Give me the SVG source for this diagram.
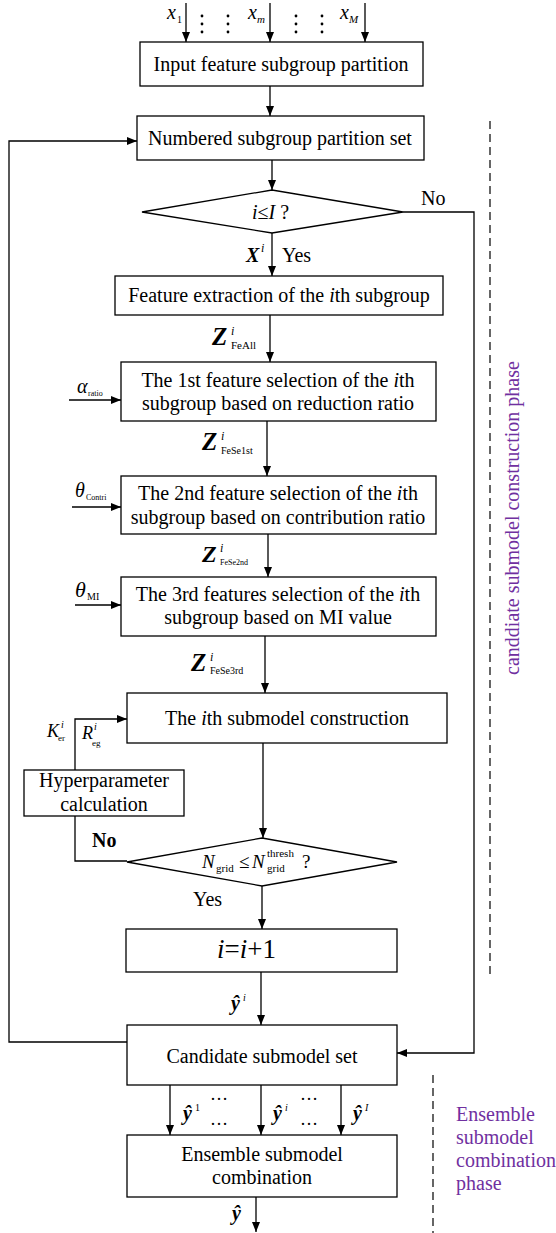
<svg xmlns="http://www.w3.org/2000/svg" width="556" height="1233" viewBox="0 0 556 1233" font-family="'Liberation Serif','Times New Roman',serif">
<defs>
<marker id="ah" markerUnits="userSpaceOnUse" markerWidth="10" markerHeight="8" refX="10" refY="4" orient="auto">
<path d="M0,0 L10,4 L0,8 z" fill="#000"/>
</marker>
<style>
text{font-family:"Liberation Serif","Times New Roman",serif;fill:#000}
.t{font-size:20px;text-anchor:middle}
.box{fill:#fff;stroke:#000;stroke-width:1.3}
.ln{fill:none;stroke:#000;stroke-width:1.3}
.ar{fill:none;stroke:#000;stroke-width:1.3;marker-end:url(#ah)}
.dash{fill:none;stroke:#000;stroke-width:1.2;stroke-dasharray:8 5}
.it{font-style:italic}
.bi{font-style:italic;font-weight:bold}
.sub{font-size:10px}
.sup{font-size:12px;font-style:italic}
.ph{font-size:20px;fill:#7030a0}
</style>
</defs>
<rect width="556" height="1233" fill="#fff"/>

<g id="connectors">
<line class="ar" x1="186" y1="3" x2="186" y2="42"/>
<line class="ar" x1="270" y1="3" x2="270" y2="42"/>
<line class="ar" x1="365" y1="3" x2="365" y2="42"/>
<line class="ar" x1="270" y1="86" x2="270" y2="116"/>
<line class="ar" x1="272" y1="160" x2="272" y2="190"/>
<line class="ar" x1="272" y1="233" x2="272" y2="276"/>
<polyline class="ar" points="403,212 474,212 474,1053 397,1053"/>
<line class="ar" x1="270" y1="315" x2="270" y2="362"/>
<line class="ar" x1="69" y1="400" x2="121" y2="400"/>
<line class="ar" x1="267" y1="421" x2="267" y2="476"/>
<line class="ar" x1="72" y1="507" x2="121" y2="507"/>
<line class="ar" x1="268" y1="534" x2="268" y2="577"/>
<line class="ar" x1="75" y1="605" x2="121" y2="605"/>
<line class="ar" x1="265" y1="636" x2="265" y2="693"/>
<polyline class="ar" points="75,770 75,719 127,719"/>
<line class="ar" x1="263" y1="743" x2="263" y2="838"/>
<polyline class="ln" points="75,816 75,861 127,861"/>
<line class="ar" x1="262" y1="886" x2="262" y2="929"/>
<line class="ar" x1="261" y1="972" x2="261" y2="1025"/>
<polyline class="ar" points="127,1042 9,1042 9,141 137,141"/>
<line class="ar" x1="170" y1="1085" x2="170" y2="1135"/>
<line class="ar" x1="261" y1="1085" x2="261" y2="1135"/>
<line class="ar" x1="341" y1="1085" x2="341" y2="1135"/>
<line class="ar" x1="256" y1="1197" x2="256" y2="1232"/>
</g>

<g id="phase-lines">
<line class="dash" x1="490" y1="121" x2="490" y2="976"/>
<line class="dash" x1="433" y1="1075" x2="433" y2="1233"/>
</g>

<g id="inputs">
<text x="167" y="19" font-size="20" class="it">x</text><text x="177" y="23" class="sub">1</text>
<text x="248" y="19" font-size="20" class="it">x</text><text x="257" y="23" font-size="11" class="it">m</text>
<text x="340" y="19" font-size="20" class="it">x</text><text x="349" y="23" font-size="11" class="it">M</text>
<g fill="#000">
<circle cx="202" cy="16" r="1.4"/><circle cx="202" cy="24" r="1.4"/><circle cx="202" cy="32" r="1.4"/>
<circle cx="228" cy="16" r="1.4"/><circle cx="228" cy="24" r="1.4"/><circle cx="228" cy="32" r="1.4"/>
<circle cx="296" cy="16" r="1.4"/><circle cx="296" cy="24" r="1.4"/><circle cx="296" cy="32" r="1.4"/>
<circle cx="322" cy="16" r="1.4"/><circle cx="322" cy="24" r="1.4"/><circle cx="322" cy="32" r="1.4"/>
</g>
</g>

<g id="n-input">
<rect class="box" x="140" y="42" width="283" height="44"/>
<text class="t" x="281" y="71">Input feature subgroup partition</text>
</g>

<g id="n-numbered">
<rect class="box" x="137" y="116" width="287" height="44"/>
<text class="t" x="280" y="145">Numbered subgroup partition set</text>
</g>

<g id="n-cond1">
<polygon class="box" points="142,212 272,190 403,212 272,233"/>
<text x="252" y="219" font-size="20"><tspan class="it">i</tspan>≤<tspan class="it">I</tspan> ?</text>
<text x="421" y="205" font-size="20">No</text>
<text x="246" y="262" font-size="20" class="bi">X</text><text x="261" y="252" class="sup">i</text>
<text x="282" y="262" font-size="20">Yes</text>
</g>

<g id="n-extract">
<rect class="box" x="115" y="276" width="328" height="39"/>
<text class="t" x="279" y="302">Feature extraction of the <tspan class="it">i</tspan>th subgroup</text>
<text x="212" y="345" font-size="25" class="bi">Z</text><text x="231" y="335" class="sup">i</text><text x="231" y="349" font-size="11">FeAll</text>
</g>

<g id="n-sel1">
<rect class="box" x="121" y="362" width="315" height="59"/>
<text class="t" x="278" y="387">The 1st feature selection of the <tspan class="it">i</tspan>th</text>
<text class="t" x="278" y="410">subgroup based on reduction ratio</text>
<text x="77" y="393" font-size="20" class="it">α</text><text x="88" y="396" font-size="8">ratio</text>
<text x="202" y="450" font-size="25" class="bi">Z</text><text x="221" y="440" class="sup">i</text><text x="221" y="454" class="sub">FeSe1st</text>
</g>

<g id="n-sel2">
<rect class="box" x="121" y="476" width="315" height="58"/>
<text class="t" x="278" y="500">The 2nd feature selection of the <tspan class="it">i</tspan>th</text>
<text class="t" x="278" y="524">subgroup based on contribution ratio</text>
<text x="75" y="497" font-size="20" class="it">θ</text><text x="86" y="500" font-size="8">Contri</text>
<text x="202" y="562" font-size="24" class="bi">Z</text><text x="220" y="552" class="sup" font-size="10">i</text><text x="220" y="565" font-size="8">FeSe2nd</text>
</g>

<g id="n-sel3">
<rect class="box" x="121" y="577" width="315" height="59"/>
<text class="t" x="278" y="601">The 3rd features selection of the <tspan class="it">i</tspan>th</text>
<text class="t" x="278" y="624">subgroup based on MI value</text>
<text x="75" y="597" font-size="22" class="it">θ</text><text x="87" y="600" font-size="10">MI</text>
<text x="191" y="671" font-size="25" class="bi">Z</text><text x="210" y="661" class="sup">i</text><text x="210" y="674" class="sub">FeSe3rd</text>
</g>

<g id="n-construct">
<rect class="box" x="127" y="693" width="320" height="50"/>
<text class="t" x="287" y="725">The <tspan class="it">i</tspan>th submodel construction</text>
</g>

<g id="n-hyper">
<rect class="box" x="24" y="770" width="160" height="46"/>
<text class="t" x="104" y="787">Hyperparameter</text>
<text class="t" x="104" y="811">calculation</text>
<text x="47" y="737" font-size="18" class="it">K</text><text x="61" y="728" font-size="10" class="it">i</text><text x="58" y="741" font-size="9">er</text>
<text x="82" y="739" font-size="18" class="it">R</text><text x="94" y="730" font-size="10" class="it">i</text><text x="92" y="746" font-size="9">eg</text>
</g>

<g id="n-cond2">
<polygon class="box" points="127,862 262,838 397,862 262,886"/>
<text x="202" y="868" font-size="19"><tspan class="it">N</tspan></text><text x="216" y="872" font-size="11">grid</text>
<text x="239" y="868" font-size="19">≤</text>
<text x="252" y="868" font-size="19" class="it">N</text><text x="267" y="857" font-size="11">thresh</text><text x="267" y="872" font-size="11">grid</text>
<text x="302" y="868" font-size="19">?</text>
<text x="92" y="847" font-size="20" font-weight="bold">No</text>
<text x="193" y="906" font-size="20">Yes</text>
</g>

<g id="n-incr">
<rect class="box" x="126" y="929" width="271" height="43"/>
<text x="217" y="958" font-size="27"><tspan class="it">i</tspan>=<tspan class="it">i</tspan>+1</text>
<text x="231" y="1010" font-size="20" class="bi">ŷ</text><text x="243" y="1001" font-size="10" class="it">i</text>
</g>

<g id="n-candidate">
<rect class="box" x="127" y="1025" width="270" height="60"/>
<text class="t" x="262" y="1063">Candidate submodel set</text>
<text x="183" y="1120" font-size="20" class="bi">ŷ</text><text x="195" y="1111" font-size="10">1</text>
<text x="273" y="1120" font-size="20" class="bi">ŷ</text><text x="285" y="1111" font-size="10" class="it">i</text>
<text x="353" y="1120" font-size="20" class="bi">ŷ</text><text x="365" y="1111" font-size="10" class="it">I</text>
<text x="210" y="1100" font-size="18">…</text><text x="210" y="1125" font-size="18">…</text>
<text x="300" y="1100" font-size="18">…</text><text x="300" y="1125" font-size="18">…</text>
</g>

<g id="n-ensemble">
<rect class="box" x="127" y="1135" width="270" height="62"/>
<text class="t" x="262" y="1161">Ensemble submodel</text>
<text class="t" x="262" y="1184">combination</text>
<text x="232" y="1220" font-size="20" class="bi">ŷ</text>
</g>

<g id="phase-labels">
<text class="ph" transform="translate(519,518) rotate(-90)" text-anchor="middle">canddiate submodel construction phase</text>
<text class="ph" x="456" y="1121">Ensemble</text>
<text class="ph" x="456" y="1144">submodel</text>
<text class="ph" x="456" y="1167">combination</text>
<text class="ph" x="456" y="1190">phase</text>
</g>
</svg>
